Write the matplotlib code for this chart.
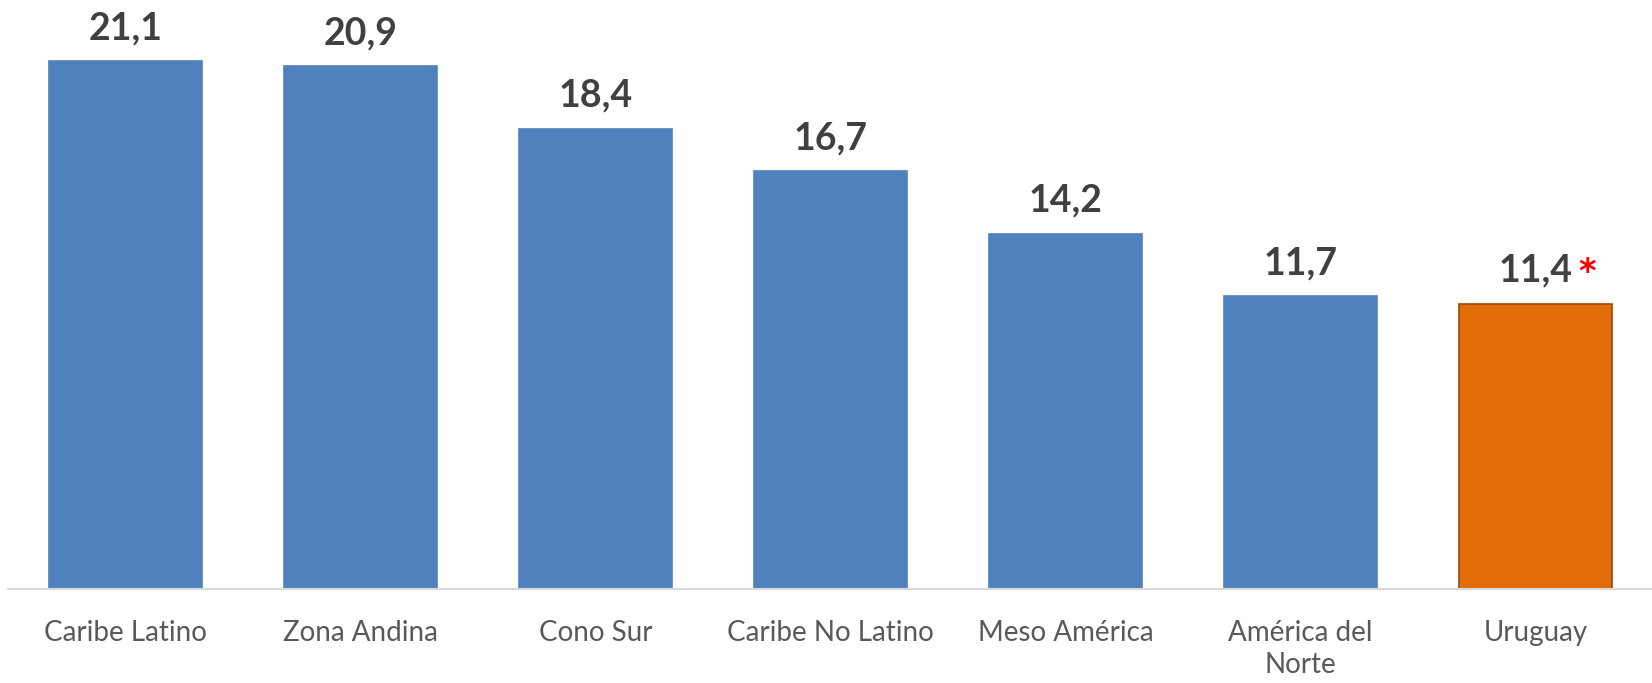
import matplotlib
matplotlib.use("Agg")
import matplotlib.pyplot as plt

categories = ["Caribe Latino", "Zona Andina", "Cono Sur", "Caribe No Latino",
              "Meso América", "América del\nNorte", "Uruguay"]
values = [21.1, 20.9, 18.4, 16.7, 14.2, 11.7, 11.4]
value_labels = ["21,1", "20,9", "18,4", "16,7", "14,2", "11,7", "11,4"]
highlight = "Uruguay"

BLUE = "#4F81BD"
ORANGE = "#E36C0A"
ORANGE_EDGE = "#984807"

plt.rcParams['font.family'] = ['Lato', 'DejaVu Sans']

fig = plt.figure(figsize=(16.52, 6.83), dpi=100)
ax = fig.add_axes([8 / 1652, 94 / 683, 1645 / 1652, 589 / 683])

x = list(range(len(categories)))
colors = [ORANGE if c == highlight else BLUE for c in categories]
edges = [ORANGE_EDGE if c == highlight else BLUE for c in categories]
ax.bar(x, values, width=0.65, color=colors, edgecolor=edges, linewidth=1.2, zorder=2)

for xi, v, lab, c in zip(x, values, value_labels, categories):
    ax.annotate(lab, (xi, v), xytext=(0, 22), textcoords="offset pixels",
                ha="center", va="baseline", fontsize=27, fontweight="bold",
                color="#404040")
    if c == highlight:
        # red asterisk marking the highlighted value
        ax.annotate("*", (xi, v), xytext=(43, 22), textcoords="offset pixels",
                    ha="left", va="baseline", fontsize=24, fontweight="bold",
                    color="#FF0000", family="DejaVu Sans")

ax.set_xlim(-0.5, len(categories) - 0.5)
ax.set_ylim(0, 23.54)
ax.set_xticks(x)
ax.set_xticklabels(categories, fontsize=20, color="#595959", linespacing=1.3,
                   va="top")
ax.tick_params(axis="x", length=0, pad=22)
ax.set_yticks([])
for s in ["top", "right", "left"]:
    ax.spines[s].set_visible(False)
ax.spines["bottom"].set_color("#D9D9D9")
ax.spines["bottom"].set_linewidth(1.5)

fig.savefig("out.png", dpi=100)
